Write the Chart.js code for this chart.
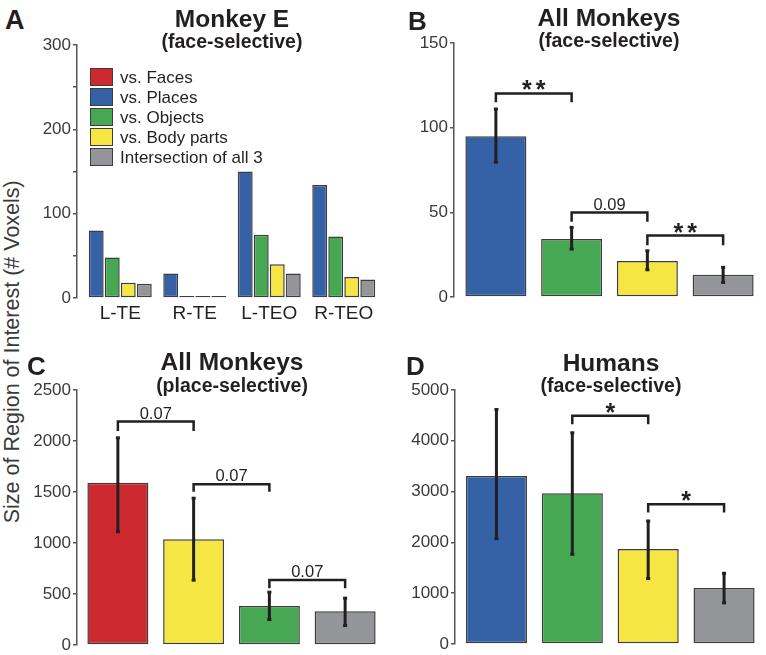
<!DOCTYPE html>
<html>
<head>
<meta charset="utf-8">
<script src="https://cdn.jsdelivr.net/npm/chart.js@4.4.1/dist/chart.umd.min.js"></script>
<style>
    body { margin: 0; background: #fff; width: 766px; height: 655px; overflow: hidden; position: relative;
           font-family: "Liberation Sans", Arial, sans-serif; color: #231f20; }
    .box { position: absolute; }
    .t { position: absolute; line-height: 1; white-space: nowrap; }
    .sw { position: absolute; box-sizing: border-box; border: 1.5px solid #3d3d3d; }
</style>
</head>
<body>
<div class="box" id="boxA"><canvas id="chartA"></canvas></div>
<div class="box" id="boxB"><canvas id="chartB"></canvas></div>
<div class="box" id="boxC"><canvas id="chartC"></canvas></div>
<div class="box" id="boxD"><canvas id="chartD"></canvas></div>
<script>
// --- Data ---
const colorOf = {
    'vs. Faces': '#cd2a2f',
    'vs. Places': '#3561a7',
    'vs. Objects': '#46a853',
    'vs. Body parts': '#f5e643',
    'Intersection of all 3': '#939598'
};
const legendLabels = ['vs. Faces', 'vs. Places', 'vs. Objects', 'vs. Body parts', 'Intersection of all 3'];

// A: Monkey E, face-selective, per region
const regionsA = ['L-TE', 'R-TE', 'L-TEO', 'R-TEO'];
const placesA = [80, 29, 150, 134];
const objectsA = [48, 0, 75, 73];
const bodyA = [18, 0, 40, 25];
const interA = [17, 0, 29, 22];

// B: All monkeys, face-selective
const catsB = ['vs. Places', 'vs. Objects', 'vs. Body parts', 'Intersection of all 3'];
const meansB = [95, 34.3, 21.3, 13.2];
const lowB = [79.3, 28, 15.8, 8.3];
const highB = [111.3, 41.4, 27.6, 17.8];
const bracketsB = [[0, 1, 120.2, 115, '**'], [1, 2, 49.9, 44.4, '0.09'], [2, 3, 36.3, 30.6, '**']];

// C: All monkeys, place-selective
const catsC = ['vs. Faces', 'vs. Body parts', 'vs. Objects', 'Intersection of all 3'];
const meansC = [1590, 1036, 382, 330];
const lowC = [1105, 631, 245, 186];
const highC = [2036, 1444, 523, 464];
const bracketsC = [[0, 1, 2190, 2098, '0.07'], [1, 2, 1575, 1503, '0.07'], [2, 3, 637, 556, '0.07']];

// D: Humans, face-selective
const catsD = ['vs. Places', 'vs. Objects', 'vs. Body parts', 'Intersection of all 3'];
const meansD = [3309, 2968, 1868, 1101];
const lowD = [2064, 1756, 1278, 800];
const highD = [4626, 4168, 2431, 1402];
const bracketsD = [[1, 2, 4495, 4325, '*'], [2, 3, 2752, 2590, '*']];

const FONT = '"Liberation Sans", Arial, sans-serif';
const INK = '#231f20';
const EDGE = '#3d3d3d';

// --- Error bars + significance brackets ---
const markers = {
    id: 'markers',
    afterDatasetsDraw(chart, args, opts) {
        const ctx = chart.ctx, xs = chart.scales.x, ys = chart.scales.y;
        ctx.save();
        ctx.strokeStyle = INK;
        ctx.fillStyle = INK;
        (opts.low || []).forEach((lo, i) => {
            const px = xs.getPixelForValue(i);
            const top = ys.getPixelForValue(opts.high[i]);
            const bot = ys.getPixelForValue(lo);
            ctx.lineWidth = 3;
            ctx.beginPath();
            ctx.moveTo(px, top);
            ctx.lineTo(px, bot);
            ctx.stroke();
            ctx.fillRect(px - 2, top - 1, 4, 3);
            ctx.fillRect(px - 2, bot - 2, 4, 3);
        });
        (opts.brackets || []).forEach(([a, b, topV, legV, label]) => {
            const xa = xs.getPixelForValue(a), xb = xs.getPixelForValue(b);
            const yt = ys.getPixelForValue(topV), yl = ys.getPixelForValue(legV);
            ctx.lineWidth = 2.5;
            ctx.beginPath();
            ctx.moveTo(xa, yl);
            ctx.lineTo(xa, yt);
            ctx.lineTo(xb, yt);
            ctx.lineTo(xb, yl);
            ctx.stroke();
            const star = label.startsWith('*');
            ctx.font = (star ? 'bold 25px ' : '16.5px ') + FONT;
            ctx.letterSpacing = star ? '4px' : '0px';
            ctx.textAlign = 'center';
            ctx.textBaseline = 'alphabetic';
            const m = ctx.measureText(label);
            ctx.fillText(label, (xa + xb) / 2 + (star ? 2 : 0), yt - 3 - m.actualBoundingBoxDescent);
        });
        ctx.restore();
    }
};

// leaves a small gap between the y axis line and the first bar
const inset = {
    id: 'inset',
    afterLayout(chart, args, opts) {
        const xs = chart.scales.x;
        xs.left += opts.left || 0;
        xs.configure();
    }
};

function yScale(max, step, yWidth, showEvery) {
    return {
        min: 0, max: max,
        ticks: {
            stepSize: step, color: '#3a3a3a', padding: 2,
            font: { family: FONT, size: 17 },
            callback: v => (v % showEvery === 0 ? v : '')
        },
        grid: { drawOnChartArea: false, drawTicks: true, tickLength: 4, color: '#555', lineWidth: 1.5 },
        border: { display: true, color: '#555', width: 1.5 },
        afterFit: s => { s.width = yWidth; }
    };
}

function place(boxId, box) {
    const el = document.getElementById(boxId);
    el.style.left = box.left + 'px';
    el.style.top = box.top + 'px';
    el.style.width = (box.right - box.left) + 'px';
    el.style.height = (box.bottom - box.top) + 'px';
}

const baseOpts = {
    responsive: true, maintainAspectRatio: false, animation: false,
    plugins: { legend: { display: false }, tooltip: { enabled: false } }
};

// --- Panel A ---
const boxA = { left: 30, top: 30, right: 385, bottom: 330 };
place('boxA', boxA);
const groupA = [['vs. Places', placesA], ['vs. Objects', objectsA], ['vs. Body parts', bodyA], ['Intersection of all 3', interA]];
new Chart(document.getElementById('chartA'), {
    type: 'bar',
    data: {
        labels: regionsA,
        datasets: groupA.map(([name, vals]) => ({
            label: name, data: vals,
            backgroundColor: colorOf[name], borderColor: EDGE, borderWidth: 1.5, borderSkipped: false,
            categoryPercentage: 0.86, barPercentage: 0.93, minBarLength: 2
        }))
    },
    options: {
        ...baseOpts,
        layout: { padding: { top: 15, right: 4, bottom: 4, left: 0 } },
        plugins: { ...baseOpts.plugins, inset: { left: 6 } },
        scales: {
            x: {
                grid: { display: false, drawTicks: false },
                border: { display: false },
                ticks: { color: INK, padding: 4, font: { family: FONT, size: 19 } },
                afterFit: s => { s.height = 28; }
            },
            y: yScale(300, 50, 47, 100)
        }
    },
    plugins: [inset]
});

// --- Panels B, C, D ---
function summaryPanel(id, box, yWidth, pad, gap, cats, means, low, high, brackets, max, step) {
    place('box' + id, box);
    new Chart(document.getElementById('chart' + id), {
        type: 'bar',
        data: {
            labels: cats,
            datasets: [{
                data: means,
                backgroundColor: cats.map(c => colorOf[c]),
                borderColor: EDGE, borderWidth: 1.5, borderSkipped: false,
                categoryPercentage: 1, barPercentage: 0.805
            }]
        },
        options: {
            ...baseOpts,
            layout: { padding: pad },
            plugins: {
                ...baseOpts.plugins,
                inset: { left: gap },
                markers: { low: low, high: high, brackets: brackets }
            },
            scales: {
                x: { display: false },
                y: yScale(max, step, yWidth, step)
            }
        },
        plugins: [inset, markers]
    });
}

summaryPanel('B', { left: 405, top: 28, right: 766, bottom: 320 }, 49,
    { top: 15, right: 5, bottom: 23, left: 0 }, 4, catsB, meansB, lowB, highB, bracketsB, 150, 50);
summaryPanel('C', { left: 30, top: 375, right: 386, bottom: 665 }, 47,
    { top: 15, right: 3, bottom: 20, left: 0 }, 3, catsC, meansC, lowC, highC, bracketsC, 2500, 500);
summaryPanel('D', { left: 405, top: 375, right: 766, bottom: 664 }, 50,
    { top: 15, right: 4, bottom: 20, left: 0 }, 3.5, catsD, meansD, lowD, highD, bracketsD, 5000, 1000);

// --- Text: panel letters, titles, axis title, legend ---
function addText(txt, x, baseline, size, bold, align) {
    const d = document.createElement('div');
    d.className = 't';
    d.textContent = txt;
    d.style.fontSize = size + 'px';
    d.style.fontWeight = bold ? 'bold' : 'normal';
    d.style.top = (baseline - 0.85 * size) + 'px';
    d.style.left = x + 'px';
    if (align === 'center') d.style.transform = 'translateX(-50%)';
    document.body.appendChild(d);
    return d;
}

addText('A', 5, 30, 27, true);
addText('B', 408, 30, 26, true);
addText('C', 27, 375, 26, true);
addText('D', 406, 375, 26, true);

addText('Monkey E', 232, 28, 24.5, true, 'center');
addText('(face-selective)', 232, 49, 19.5, true, 'center');
addText('All Monkeys', 609, 27, 24.5, true, 'center');
addText('(face-selective)', 609, 48, 19.5, true, 'center');
addText('All Monkeys', 232, 371, 24.5, true, 'center');
addText('(place-selective)', 232, 393, 19.5, true, 'center');
addText('Humans', 611, 372, 24.5, true, 'center');
addText('(face-selective)', 611, 393, 19.5, true, 'center');

const yTitle = document.createElement('div');
yTitle.className = 't';
yTitle.textContent = 'Size of Region of Interest (# Voxels)';
Object.assign(yTitle.style, {
    fontSize: '21.5px', width: '400px', height: '21.5px', textAlign: 'center', color: '#3a3a3a',
    left: (13 - 200) + 'px', top: (352 - 10.75) + 'px', transform: 'rotate(-90deg)'
});
document.body.appendChild(yTitle);

legendLabels.forEach((name, i) => {
    const cy = 77 + i * 20;
    const sw = document.createElement('div');
    sw.className = 'sw';
    Object.assign(sw.style, { left: '90px', top: (cy - 9) + 'px', width: '23px', height: '18px', background: colorOf[name] });
    document.body.appendChild(sw);
    addText(name, 120, cy + 6.2, 17, false);
});
</script>
</body>
</html>
